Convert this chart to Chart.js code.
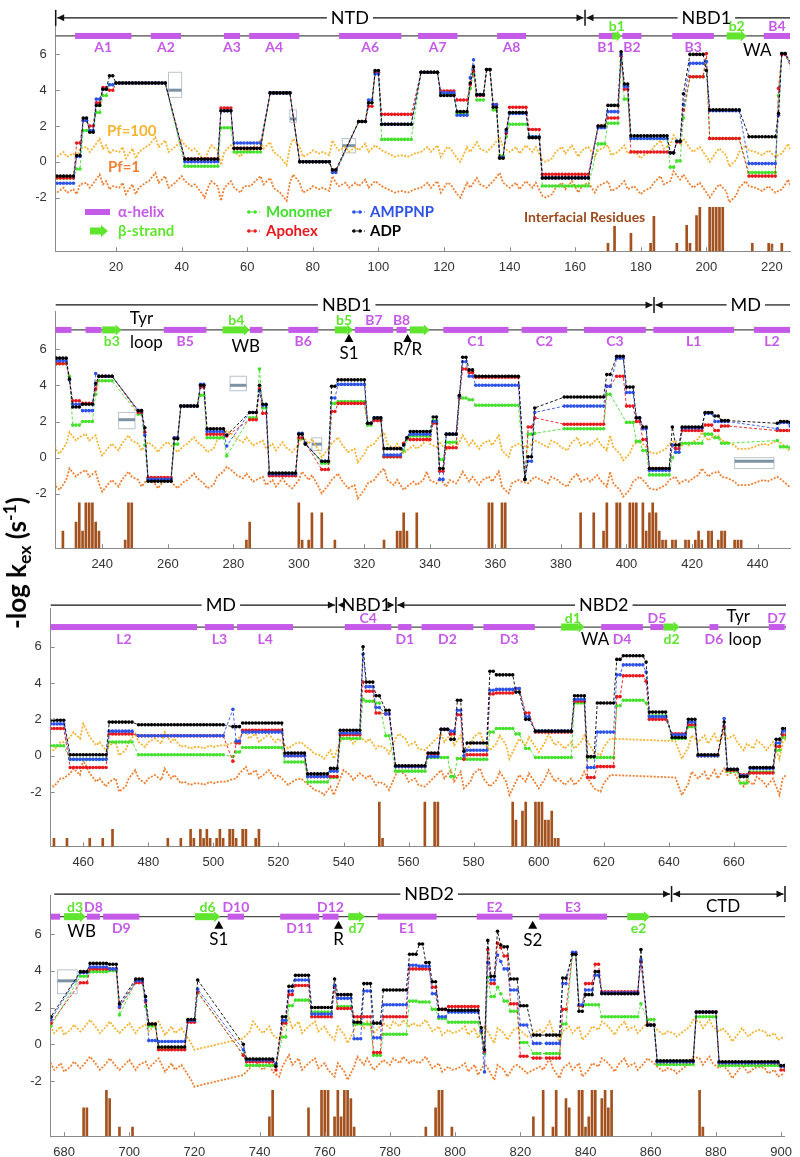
<!DOCTYPE html>
<html>
<head>
<meta charset="utf-8">
<script src="https://cdn.jsdelivr.net/npm/chart.js@4.4.0/dist/chart.umd.min.js"></script>
<style>
  html, body { margin: 0; padding: 0; background: #fff; }
  #page { position: relative; width: 800px; height: 1157px; overflow: hidden; background: #fff; }
  #page canvas { position: absolute; left: 0; }
  #ylabel {
    position: absolute; left: 17px; top: 563px;
    transform: translate(-50%, -50%) rotate(-90deg);
    font: bold 26px Lato, sans-serif; white-space: nowrap; color: #000;
  }
  #ylabel .sub { font-size: 0.68em; vertical-align: -0.3em; }
  #ylabel .sup { font-size: 0.68em; vertical-align: 0.55em; }
</style>
</head>
<body>
<div id="page">
  <canvas id="panel0"></canvas>
  <canvas id="panel1"></canvas>
  <canvas id="panel2"></canvas>
  <canvas id="panel3"></canvas>
  <div id="ylabel">-log k<span class="sub">ex</span> (s<span class="sup">-1</span>)</div>
</div>
<script>
// ---- data ----
const yTicks = [-2, 0, 2, 4, 6];
const xTicks = [
  [20, 40, 60, 80, 100, 120, 140, 160, 180, 200, 220],
  [240, 260, 280, 300, 320, 340, 360, 380, 400, 420, 440],
  [460, 480, 500, 520, 540, 560, 580, 600, 620, 640, 660],
  [680, 700, 720, 740, 760, 780, 800, 820, 840, 860, 880, 900]
];

// peptides [first residue, last residue]; state arrays hold -log kex per peptide
const peptides = [
  [2,7],[8,9],[10,11],[12,13],[14,15],[16,17],[18,19],[20,35],[41,51],[52,55],
  [56,64],[67,73],[76,85],[86,87],[94,96],[97,98],[99,100],[101,110],[113,118],[119,123],
  [124,127],[128,128],[129,129],[130,132],[133,134],[135,136],[137,138],[139,139],[140,145],[146,149],
  [150,164],[167,169],[170,173],[174,174],[175,176],[177,188],[189,190],[191,192],[193,193],[195,199],
  [200,200],[201,210],[213,221],[222,222],[223,224],
  [226,229],[230,230],[231,233],[234,237],[238,238],[239,243],[251,252],[253,253],[254,261],[262,263],
  [264,269],[270,271],[272,277],[278,278],[285,287],[288,288],[289,290],[291,299],[300,301],[302,302],
  [307,309],[310,311],[312,320],[321,322],[323,325],[326,331],[332,332],[333,333],[334,340],[341,342],
  [343,344],[345,348],[349,349],[350,351],[352,353],[354,367],[369,369],[370,371],[372,372],[381,393],
  [394,395],[397,399],[400,402],[403,404],[405,406],[407,413],[414,414],[415,416],[417,423],[424,426],
  [427,428],[429,431],[446,446],[447,449],
  [450,454],[456,467],[468,475],[477,503],[506,506],[507,508],[509,521],[522,528],[529,535],[536,538],
  [539,545],[546,546],[547,549],[550,551],[553,554],[556,565],[566,569],[570,572],[573,574],[575,576],
  [577,577],[578,584],[585,586],[587,592],[593,594],[596,597],[599,610],[611,614],[615,617],[618,623],
  [624,625],[626,632],[633,633],[634,639],[641,645],[646,648],[649,655],[657,657],[658,661],[662,664],
  [665,672],[673,674],[675,676],
  [685,687],[688,693],[694,696],[697,697],[702,704],[705,705],[706,708],[709,717],[718,720],[721,721],
  [735,735],[736,744],[745,745],[747,748],[749,750],[751,755],[756,762],[763,763],[764,768],[769,771],
  [772,774],[775,777],[778,785],[786,788],[789,790],[791,792],[793,794],[795,797],[798,807],[808,808],
  [809,809],[810,810],[811,812],[813,813],[814,814],[815,816],[817,819],[820,822],[824,826],[828,832],
  [833,834],[836,837],[838,839],[840,842],[843,844],[845,856],[857,857],[859,861],[862,873],[874,880],
  [881,899],[900,901]
];

const monomer = [
  -0.9,-0.4,1.75,1.75,2.75,3.7,4.3,4.4,-0.25,1.9,
  0.55,3.85,0,-0.5,2.25,3.3,5.0,1.25,5.0,3.8,
  2.7,4.1,4.9,3.45,5.15,2.9,0.35,1.4,2.1,1.4,
  -1.35,1.0,2.15,5.6,3.5,1.3,-0.3,0.05,2.45,4.75,
  5.6,1.3,-0.6,3.7,6.05,
  5.2,4.5,1.8,2.0,3.5,4.25,2.4,0.7,-1.2,0.75,
  2.85,3.45,1.1,0.1,2.2,4.9,2.75,-0.9,1.05,0.8,
  -0.3,3.0,3.1,1.8,2.1,0.05,0.4,1.0,1.2,2.05,
  -0.1,0.85,3.3,3.3,3.2,2.9,-1.2,1.3,1.35,1.6,
  3.5,null,1.95,0.9,0.4,-0.95,0.0,0.3,0.8,1.3,
  1.1,0.8,0.95,0.6,
  0.55,-0.2,0.75,0.05,-0.05,0.2,0.45,-0.35,-1.45,-1.2,
  0.95,3.1,3.0,2.9,1.1,-0.85,-0.1,-0.1,-1.15,-0.15,
  -0.15,-0.2,1.3,1.5,1.2,0.4,-0.1,2.9,-0.1,-0.1,
  2.75,3.05,2.9,2.2,0.95,1.6,0.0,1.5,-0.85,-1.5,
  -0.9,0.3,1.0,
  3.7,3.95,4.0,1.6,3.4,2.05,1.0,-0.25,1.25,2.8,
  -0.55,-1.15,-1.1,0.4,2.1,2.4,1.75,3.2,2.05,1.1,
  1.1,-0.6,0.55,2.35,2.3,2.3,1.9,1.4,1.2,0.6,
  -0.5,3.65,2.6,3.1,2.75,2.35,1.8,0.1,-0.5,-0.5,
  1.1,4.9,2.1,2.15,2.15,1.5,2.2,1.35,-1.1,1.5,
  -1.15,-1.2
];

const apohex = [
  -0.9,1.05,2.3,2.0,3.3,4.15,4.0,4.4,0.15,3.0,
  0.75,3.85,0,-0.5,2.25,3.1,5.0,2.65,5.0,3.95,
  3.45,4.3,5.05,3.7,5.15,3.2,0.25,1.6,3.05,1.8,
  -0.7,2.0,2.45,5.9,4.05,0.55,0.5,1.1,2.9,4.75,
  6.05,1.3,-0.8,4.1,6.0,
  5.2,4.3,3.15,3.0,3.8,4.5,2.5,1.4,-1.1,1.1,
  2.85,3.9,1.3,1.2,2.1,3.8,2.45,-1.0,1.1,0.8,
  -0.65,2.55,3.0,1.9,2.05,0.05,0.8,1.1,1.0,1.9,
  -0.75,0.55,3.3,4.9,4.7,4.45,-1.2,1.7,2.2,1.85,
  3.95,4.5,2.85,2.0,1.0,-0.6,0.7,0.5,1.5,1.8,
  1.5,1.75,1.5,1.5,
  1.5,-0.65,1.2,1.1,-0.3,0.7,1.4,0.0,-1.15,-1.15,
  1.15,4.05,3.55,2.35,2.3,-0.6,0.1,1.45,1.2,2.25,
  -0.2,0.05,3.4,3.45,3.7,2.35,1.3,3.0,-1.2,-0.6,
  3.25,4.4,4.1,2.0,1.2,1.7,0.0,1.6,-0.8,-1.05,
  -0.95,0.5,1.15,
  3.35,4.1,4.1,2.0,3.35,2.3,1.1,-0.3,1.2,2.85,
  -0.6,-0.95,-1.4,1.15,2.7,3.2,1.5,3.1,1.95,1.5,
  1.5,-0.45,1.5,4.1,4.1,4.1,3.1,1.9,2.05,0.7,
  -0.4,5.15,3.3,5.5,5.25,4.8,2.2,-0.65,-0.75,-0.75,
  1.9,4.9,2.1,3.3,4.35,2.85,4.5,1.05,-0.95,1.75,
  -1.0,-1.4
];

const amppnp = [
  -1.2,0.3,2.3,1.75,3.5,4.05,4.3,4.4,0.0,2.85,
  1.05,3.85,0,-0.6,2.25,3.45,4.9,2.1,5.0,3.85,
  2.6,4.7,5.7,3.75,5.15,3.2,0.25,1.7,2.7,1.4,
  -0.9,1.9,2.8,6.0,4.2,1.3,0.5,1.15,3.2,5.5,
  5.6,2.85,-0.1,2.6,6.05,
  5.35,4.3,2.95,2.6,4.65,4.5,2.6,1.25,-1.2,1.1,
  2.85,4.05,1.45,0.65,2.5,3.7,2.9,-0.9,1.35,0.8,
  -0.2,3.3,4.05,1.9,2.2,0.15,0.7,1.1,1.3,2.0,
  -1.2,1.3,3.4,5.3,4.5,4.0,-1.2,-0.2,2.5,2.85,
  3.95,5.5,3.6,2.2,1.6,-0.7,0.7,0.3,1.65,2.45,
  2.0,2.0,1.6,1.95,
  1.75,-0.2,1.35,1.1,2.55,0.8,1.3,0.0,-1.15,-0.85,
  1.25,5.6,3.8,2.65,2.3,-0.6,-0.05,1.45,1.35,2.5,
  0.0,0.3,3.6,3.65,3.7,2.15,1.35,3.1,-0.65,1.3,
  4.45,5.0,4.6,2.15,1.15,1.85,0.0,2.05,-0.75,-1.1,
  -0.7,0.7,1.35,
  3.9,4.2,4.1,2.05,3.45,2.4,0.2,0.15,1.3,3.0,
  -0.3,-0.85,-1.05,1.3,2.9,3.5,1.65,3.2,2.5,0.3,
  2.9,0.35,2.15,4.3,4.25,4.25,2.75,1.5,1.75,0.75,
  -1.5,4.45,3.5,4.85,4.5,4.1,2.95,1.05,0.05,0.05,
  3.3,5.0,2.15,2.95,3.75,2.8,4.6,1.05,-0.95,1.75,
  -1.0,-1.2
];

const adp = [
  -0.8,0.35,2.45,1.65,3.15,4.05,4.8,4.4,0.15,2.85,
  0.75,3.85,0,-0.45,2.25,3.3,5.1,2.1,5.0,3.7,
  2.8,4.4,5.3,3.75,5.15,3.05,0.2,1.8,2.75,1.35,
  -0.9,2.0,3.15,6.15,4.35,1.45,0.5,1.15,3.8,6.0,
  5.1,2.9,1.4,2.7,6.05,
  5.5,4.35,2.8,2.95,4.1,4.5,2.6,1.65,-1.3,1.05,
  2.85,4.0,1.6,1.25,2.5,4.0,2.95,-0.85,1.3,0.75,
  -0.2,3.95,4.3,1.9,2.2,0.5,0.7,1.1,1.45,2.25,
  -0.6,1.3,3.45,5.55,4.85,4.5,-1.2,0.05,2.75,3.35,
  4.6,5.6,3.9,2.2,1.7,-0.6,1.7,0.7,1.7,2.5,
  2.3,2.05,1.9,2.0,
  1.95,0.05,1.85,1.7,1.6,1.6,1.8,0.15,-1.0,-0.7,
  1.4,6.0,4.05,3.3,2.5,-0.55,0.15,1.45,0.9,3.05,
  0.25,0.7,4.65,4.45,3.5,2.0,1.35,3.3,-0.05,2.9,
  5.3,5.5,5.15,2.4,1.0,2.0,0.05,1.85,-0.75,-1.15,
  -0.65,0.9,1.5,
  3.95,4.4,4.35,2.2,3.55,2.6,1.1,-0.15,1.35,3.5,
  0.0,-0.8,-1.2,1.5,3.15,3.75,2.0,3.55,2.7,1.2,
  3.3,1.15,2.95,4.9,5.45,4.45,3.4,1.9,1.85,0.9,
  -0.3,5.65,3.7,6.15,5.4,5.3,3.55,2.1,0.5,0.5,
  3.6,4.9,1.8,2.7,3.95,2.75,5.15,1.05,-0.9,1.75,
  -0.95,-1.15
];

// overlapping peptides without a single value: [first, last, mid, low, high]
const unresolved = [
  [36,40,4.0,3.6,5.0],[73,75,2.4,2.2,2.9],[89,93,0.9,0.5,1.3],
  [245,250,2.1,1.6,2.5],[279,284,4.0,3.7,4.5],[304,307,0.75,0.4,1.1],[433,445,-0.2,-0.6,0.0],
  [678,684,3.45,2.75,4.05]
];

// -log kex for Pf = 1 (i.e. -log kint)
const pf1Curve = [
  [2,-1.72],[4,-1.45],[5,-1.72],[7,-1.54],[8,-1.81],[9,-1.26],[11,-1.17],[12,-1.45],[13,-1.23],[15,-0.71],
  [16,-1.26],[17,-1.08],[18,-1.54],[19,-1.36],[21,-1.45],[22,-1.17],[23,-1.81],[25,-1.26],[26,-1.81],[27,-1.45],
  [29,-1.17],[30,-1.08],[32,-0.62],[33,-1.17],[35,-0.8],[36,-1.45],[38,-1.17],[40,-0.8],[41,-1.08],[43,-1.36],
  [44,-1.26],[46,-1.72],[47,-2.0],[48,-1.45],[49,-1.08],[51,-1.36],[52,-2.18],[53,-1.45],[55,-1.08],[56,-1.45],
  [58,-1.72],[59,-1.36],[61,-1.36],[62,-1.17],[64,-0.8],[65,-1.26],[67,-0.9],[68,-1.45],[70,-1.72],[72,-2.18],
  [73,-1.17],[74,-0.71],[76,-1.17],[77,-1.72],[79,-1.54],[80,-1.36],[82,-1.54],[83,-1.45],[85,-1.63],[86,-0.8],
  [87,-1.17],[88,-1.36],[90,-1.17],[91,-1.45],[93,-1.17],[94,-1.36],[96,-0.99],[97,-1.45],[99,-1.08],[101,-1.36],
  [103,-1.54],[105,-1.72],[107,-1.63],[109,-1.72],[111,-1.54],[113,-1.45],[115,-1.17],[116,-1.45],[118,-1.08],[119,-1.72],
  [121,-1.17],[122,-1.26],[124,-1.81],[125,-2.0],[127,-1.17],[128,-1.45],[130,-0.9],[131,-1.26],[133,-1.45],[135,-1.08],
  [137,-0.62],[138,-1.17],[140,-1.45],[142,-1.17],[143,-1.54],[145,-1.08],[147,-1.45],[148,-1.17],[150,-1.9],[151,-2.0],
  [153,-1.81],[154,-1.45],[156,-1.17],[157,-1.54],[159,-1.08],[161,-1.72],[162,-1.36],[164,-1.17],[166,-1.72],[167,-1.36],
  [170,-1.08],[171,-1.63],[173,-1.45],[175,-1.08],[176,-1.54],[178,-1.36],[180,-1.81],[181,-1.63],[183,-1.45],[184,-1.17],
  [186,-0.8],[187,-1.26],[189,-1.08],[190,-0.53],[192,-0.99],[193,-0.71],[195,-1.26],[196,-1.45],[198,-1.17],[200,-1.72],
  [201,-2.0],[203,-1.45],[204,-1.26],[206,-1.63],[207,-2.27],[209,-1.9],[210,-1.45],[212,-1.08],[213,-1.36],[215,-1.45],
  [217,-1.63],[219,-1.36],[221,-1.72],[223,-1.54],[225,-0.99],
  [226,-1.6],[227,-1.78],[229,-1.23],[230,-0.59],[232,-1.05],[233,-0.87],[235,-0.68],[236,-1.05],[238,-0.77],[239,-1.42],
  [240,-1.88],[242,-1.42],[243,-1.23],[245,-1.6],[246,-1.23],[248,-0.77],[249,-1.05],[251,-1.23],[252,-1.6],[254,-1.14],
  [256,-1.42],[257,-1.69],[259,-1.23],[260,-1.14],[262,-1.51],[263,-1.69],[265,-1.32],[266,-1.23],[268,-0.87],[269,-1.14],
  [271,-1.42],[272,-1.69],[274,-1.51],[275,-1.05],[277,-0.77],[278,-0.5],[280,-0.77],[281,-0.96],[283,-1.14],[284,-0.87],
  [286,-1.32],[287,-1.23],[289,-1.05],[290,-1.51],[292,-1.23],[293,-1.6],[295,-1.14],[296,-1.42],[298,-1.69],[300,-1.23],
  [301,-0.77],[303,-1.23],[304,-0.96],[306,-1.6],[307,-1.97],[309,-1.51],[310,-1.23],[312,-0.87],[313,-1.23],[315,-1.69],
  [317,-1.51],[318,-2.25],[320,-1.78],[321,-1.42],[323,-1.23],[324,-0.96],[326,-0.59],[327,-1.23],[329,-1.51],[330,-1.23],
  [332,-1.78],[333,-1.6],[335,-1.32],[336,-1.51],[338,-1.23],[339,-0.77],[340,-1.23],[342,-1.42],[343,-1.14],[345,-1.6],
  [346,-1.23],[348,-1.42],[349,-1.14],[350,-0.77],[352,-1.32],[353,-1.05],[355,-1.51],[356,-1.23],[358,-1.05],[359,-1.32],
  [361,-0.77],[362,-1.6],[364,-1.97],[365,-1.42],[367,-1.23],[368,-1.32],[370,-1.42],[371,-1.23],[372,-1.05],[374,-1.23],
  [376,-1.42],[377,-1.05],[379,-1.23],[380,-1.42],[382,-1.6],[383,-1.23],[385,-0.87],[386,-1.32],[388,-1.14],[389,-1.32],
  [391,-0.96],[392,-1.23],[394,-1.6],[395,-0.77],[396,-1.42],[398,-1.78],[399,-2.15],[401,-1.78],[402,-1.32],[404,-1.05],
  [406,-1.42],[407,-1.69],[409,-1.78],[410,-1.69],[412,-1.51],[413,-1.23],[415,-1.05],[416,-1.42],[418,-1.23],[419,-1.32],
  [421,-1.05],[422,-0.96],[423,-0.59],[425,-1.05],[426,-0.87],[428,-0.77],[429,-1.05],[431,-1.14],[433,-1.32],[434,-1.51],
  [436,-1.51],[437,-1.51],[439,-1.42],[440,-1.32],[442,-1.23],[443,-1.32],[445,-1.14],[446,-1.05],[448,-1.32],[450,-1.65],
  [451,-1.7],[453,-1.25],[454,-1.25],[456,-0.97],[457,-0.7],[459,-1.06],[460,-0.24],[462,-0.97],[464,-1.43],[465,-1.25],
  [467,-1.7],[468,-1.43],[470,-1.25],[471,-1.98],[473,-1.7],[474,-1.25],[476,-0.79],[477,-1.25],[479,-1.52],[480,-1.25],
  [482,-1.06],[484,-1.34],[485,-0.7],[487,-1.25],[488,-1.06],[490,-1.52],[491,-1.43],[493,-1.61],[494,-1.52],[496,-1.52],
  [497,-1.61],[499,-1.43],[500,-1.52],[502,-1.43],[504,-1.43],[505,-1.34],[507,-1.25],[508,-0.97],[510,-0.61],[511,-1.06],
  [513,-0.79],[514,-1.25],[516,-0.97],[517,-0.79],[519,-1.25],[520,-1.06],[522,-1.43],[523,-1.61],[525,-1.34],[527,-1.25],
  [528,-1.43],[530,-1.7],[531,-1.89],[533,-1.98],[534,-2.17],[536,-1.7],[537,-2.17],[539,-1.25],[540,-0.79],[542,-1.06],
  [543,-1.34],[545,-0.97],[547,-1.25],[548,-1.06],[550,-1.61],[551,-1.43],[553,-1.61],[554,-1.89],[556,-1.06],[557,-0.79],
  [559,-1.06],[560,-1.43],[562,-1.25],[563,-1.61],[565,-1.7],[567,-1.34],[568,-1.16],[570,-0.79],[571,-1.25],[573,-0.79],
  [574,-1.43],[576,-0.88],[577,-1.8],[579,-1.43],[580,-0.97],[582,-0.7],[583,-1.25],[585,-1.7],[587,-1.34],[588,-0.88],
  [590,-1.43],[591,-2.17],[593,-1.43],[594,-1.06],[596,-1.43],[597,-0.97],[599,-1.52],[600,-1.8],[602,-1.25],[603,-0.79],
  [605,-1.43],[606,-1.25],[608,-1.61],[610,-1.25],[611,-1.61],[613,-1.25],[614,-0.88],[616,-1.52],[617,-1.8],[619,-1.98],
  [620,-1.52],[622,-1.06],[642,-1.2],[644,-2.17],[646,-1.52],[647,-0.88],[649,-1.25],[651,-0.88],[652,-1.34],[654,-0.79],
  [655,-1.25],[657,-0.7],[658,-1.06],[660,-0.88],[661,-1.25],[663,-1.7],[664,-1.34],[666,-1.61],[667,-1.16],[669,-1.43],
  [670,-1.7],[672,-1.25],[674,-2.17],[675,-1.25],[676,-1.06],
  [677,-1.39],[679,-1.03],[680,-1.49],[682,-1.21],[683,-0.94],[685,-1.3],[686,-1.12],[688,-0.67],[690,-1.12],[691,-1.39],
  [693,-1.03],[694,-0.76],[696,-1.21],[697,-1.39],[699,-1.03],[700,-0.85],[702,-1.39],[703,-1.12],[705,-0.94],[706,-1.3],
  [708,-0.94],[709,-0.76],[711,-1.49],[713,-1.03],[714,-1.39],[716,-1.12],[717,-1.39],[719,-1.94],[720,-2.3],[735,-1.67],
  [737,-1.3],[738,-0.76],[740,-1.21],[741,-1.39],[743,-1.03],[744,-1.49],[746,-1.76],[747,-1.21],[749,-0.58],[750,-1.12],
  [752,-0.76],[753,-1.39],[755,-1.03],[757,-0.76],[758,-1.3],[760,-1.03],[761,-1.39],[763,-1.76],[764,-1.03],[766,-1.49],
  [767,-1.94],[769,-1.21],[770,-0.67],[772,-1.12],[773,-0.76],[775,-1.39],[776,-1.21],[778,-0.85],[780,-1.12],[781,-0.76],
  [783,-1.03],[784,-0.67],[786,-1.03],[787,-0.85],[789,-1.03],[791,-0.67],[793,-1.3],[795,-1.03],[796,-1.49],[798,-1.21],
  [799,-1.39],[801,-1.3],[803,-1.03],[804,-1.49],[806,-1.12],[807,-1.67],[809,-1.03],[810,-1.3],[812,-1.94],[813,-1.12],
  [815,-1.39],[816,-1.76],[818,-1.21],[819,-1.12],[821,-1.39],[822,-1.58],[824,-1.39],[826,-1.21],[827,-1.39],[829,-0.76],
  [830,-1.3],[832,-1.85],[833,-1.3],[835,-1.03],[836,-1.39],[838,-1.03],[839,-1.76],[841,-1.39],[842,-1.03],[844,-1.21],
  [845,-0.76],[847,-1.03],[849,-1.49],[850,-1.12],[852,-0.76],[853,-1.21],[855,-1.03],[856,-1.39],[858,-1.03],[859,-0.76],
  [861,-1.03],[862,-1.21],[864,-1.49],[865,-1.3],[867,-1.39],[868,-1.58],[870,-1.3],[872,-1.03],[873,-0.67],[875,-0.76],
  [876,-1.12],[878,-0.67],[879,-1.03],[881,-1.3],[882,-1.12],[884,-1.49],[885,-1.85],[887,-1.39],[888,-1.12],[890,-1.58],
  [891,-1.39],[893,-1.21],[895,-1.3],[896,-1.58],[898,-1.39],[899,-1.76],[901,-1.58]
];
const LOG_PF100 = 2; // log10(100): the Pf=100 curve sits 2 units above Pf=1

// interfacial residues and the top of each bar (bars rise from the axis)
const interfaceRes = [
  170,172,177,183,184,191,194,195,197,198,201,202,203,204,205,214,219,220,223,
  228,232,233,234,235,236,237,238,239,247,248,249,284,285,300,301,303,304,307,311,
  326,330,331,332,333,336,358,359,362,363,386,390,393,394,397,398,401,402,403,405,
  406,407,408,409,410,411,412,414,415,418,419,421,422,423,425,426,428,429,430,433,434,435,
  451,455,462,466,469,486,490,493,494,496,497,498,499,501,502,503,505,506,507,509,510,513,514,
  551,552,565,568,569,592,593,595,596,599,600,601,602,603,604,605,606,
  686,687,693,694,697,701,743,744,755,759,760,761,763,764,765,766,767,768,769,
  791,794,795,796,799,824,827,830,831,834,835,838,839,840,841,842,843,845,846,847,848,875,876
];
const interfaceTop = [
  -4.55,-3.6,-4.0,-4.55,-3.05,-4.55,-3.55,-4.55,-3.0,-2.55,-2.55,-2.55,-2.55,-2.55,-2.55,-4.55,-4.55,-4.6,-4.55,
  -4.05,-3.55,-2.5,-4.05,-2.5,-2.5,-2.5,-3.55,-4.05,-4.55,-2.5,-2.5,-4.55,-3.55,-2.5,-4.55,-4.55,-3.05,-3.05,-4.55,
  -4.55,-4.05,-4.05,-3.05,-4.05,-3.05,-2.5,-2.5,-2.5,-2.5,-3.05,-3.05,-4.05,-2.5,-2.5,-2.5,-2.5,-2.5,-2.5,-2.5,
  -4.05,-3.05,-2.5,-3.05,-4.05,-4.55,-4.55,-4.55,-4.55,-4.55,-4.55,-4.55,-4.05,-4.55,-4.05,-4.05,-4.55,-4.05,-4.05,-4.55,-4.55,-4.55,
  -4.55,-4.55,-4.55,-4.55,-4.05,-4.55,-4.55,-4.05,-4.55,-4.05,-4.55,-4.05,-4.55,-4.55,-4.05,-4.55,-4.05,-4.05,-4.55,-4.05,-4.05,-4.55,-4.05,
  -2.55,-4.55,-2.55,-2.55,-2.55,-2.55,-3.55,-3.05,-2.55,-2.55,-2.55,-2.55,-3.55,-3.55,-3.05,-4.55,-4.55,
  -3.45,-3.45,-2.5,-2.95,-4.5,-4.5,-3.95,-2.5,-3.45,-2.5,-2.5,-2.5,-3.95,-2.5,-3.95,-2.5,-2.5,-2.95,-4.5,
  -4.5,-3.45,-2.5,-2.5,-4.5,-3.95,-2.5,-4.5,-2.5,-2.95,-3.45,-2.5,-2.5,-4.5,-3.95,-2.5,-2.5,-2.95,-2.5,-3.45,-2.5,-2.5,-4.5
];

// secondary structure: [first, last, label, label side]
const helices = [
  [7.5,24.7,'A1','b'],[30.6,39.8,'A2','b'],[52.9,57.8,'A3','b'],[60.6,75.9,'A4','b'],[88,107,'A6','b'],
  [112.1,124.1,'A7','b'],[136.2,145,'A8','b'],[167.2,171.6,'B1','b'],[174.4,180.2,'B2','b'],[189.6,202.3,'B3','b'],
  [217.5,225.5,'B4','a'],
  [225.8,230.6,'',''],[234.9,239.8,'',''],[258.8,271.8,'B5','b'],[285.1,288.9,'',''],[296.8,305.9,'B6','b'],
  [317.1,328.8,'B7','a'],[329.8,332.9,'B8','a'],[344.1,364,'C1','b'],[368,381.9,'C2','b'],[387,405.9,'C3','b'],
  [408.2,432.8,'L1','b'],[438.9,449.9,'L2','b'],
  [450,495,'L2','b'],[497.4,506.3,'L3','b'],[507.3,524.5,'L4','b'],[540.4,554.7,'C4','a'],[556.8,560.9,'D1','b'],
  [564,579.9,'D2','b'],[583,598.8,'D3','b'],[619.2,632,'D4','b'],[634.3,638.4,'D5','a'],[652.5,655.2,'D6','b'],
  [670.7,675.6,'D7','a'],
  [675.9,678.8,'',''],[687,691,'D8','a'],[692,703.1,'D9','b'],[730.2,735.2,'D10','a'],[746.3,758.3,'D11','b'],
  [759.3,764.2,'D12','a'],[776.2,794.3,'E1','b'],[806.6,817.6,'E2','a'],[825.8,846.6,'E3','a']
];
const strands = [
  [171.3,174.1,'b1','a'],[206.2,212.3,'b2','a'],
  [240,245.9,'b3','b'],[276.7,285.1,'b4','a'],[311,316.6,'b5','a'],[333.9,340,'',''],
  [606.9,614.1,'d1','a'],[638.4,643.3,'d2','b'],
  [680,686.7,'d3','a'],[720.2,727.9,'d6','a'],[767.2,772.3,'d7','b'],[852.8,859.8,'e2','b']
];
const motifTexts = [
  [215.5,6.24,'WA'],[252,7.7,'Tyr'],[253.5,6.38,'loop'],[283.8,6.13,'WB'],
  [617.3,6.37,'WA'],[661.3,7.65,'Tyr'],[663.4,6.37,'loop'],[685.4,6.12,'WB'],[882.2,7.48,'CTD']
];
const siteMarks = [[315.3,'S1',5.73],[333.2,'R/R',5.95],[727.5,'S1',5.71],[764.2,'R',5.68],[823.8,'S2',5.63]];

// domain bar: one entry per panel
const domains = [
  { segs: [{from:1.6,to:163,text:'NTD',at:91.3,l:true,r:true},{from:163,to:225.5,text:'NBD1',at:200,l:true,r:false}], bars:[1.6,163] },
  { segs: [{from:225.8,to:408.4,text:'NBD1',at:314.6,l:false,r:true},{from:408.4,to:449.9,text:'MD',at:436.4,l:true,r:false}], bars:[408.4] },
  { segs: [{from:450,to:537.8,text:'MD',at:502.3,l:false,r:true},{from:537.8,to:556.1,text:'NBD1',at:547,l:true,r:true},{from:556.1,to:676,text:'NBD2',at:620,l:true,r:false}], bars:[537.8,556.1] },
  { segs: [{from:677,to:866.4,text:'NBD2',at:792,l:false,r:true},{from:866.4,to:901.2,text:'',l:true,r:true}], bars:[866.4,901.2] }
];

// ---- layout ----
const YMIN = -5, YMAX = 8.1;
const panels = [
  { zero: 160.3,  ppu: 18.2,  left: 55.7, right: 790, min: 1.6,   max: 225.5, domainY: 8.04, ssY: 7.03 },
  { zero: 457.7,  ppu: 18.1,  left: 55.7, right: 790, min: 225.8, max: 449.9, domainY: 8.44, ssY: 7.06 },
  { zero: 755.7,  ppu: 18.17, left: 50.7, right: 786, min: 450,   max: 676,   domainY: 8.29, ssY: 7.08 },
  { zero: 1044.3, ppu: 18.39, left: 50.7, right: 785, min: 675.9, max: 901.2, domainY: 8.17, ssY: 6.94 }
];

const COLORS = {
  monomer: '#43e02c', apohex: '#e8181c', amppnp: '#2d52e8', adp: '#000000',
  pf100: '#f5b431', pf1: '#ee8033', bars: '#a3521f',
  helix: '#c55ae9', strand: '#5fe52e', grayLine: '#7d93a4', grayBox: '#b7c4cf'
};
const LABEL_FONT = 'Lato, "Open Sans", sans-serif';

function residuePoints(values) {
  const pts = [];
  peptides.forEach(([s, e], i) => {
    if (values[i] === null) return;
    for (let r = s; r <= e; r++) pts.push({ x: r, y: values[i] });
  });
  return pts;
}

function stateSet(label, values, color, order) {
  return {
    label, data: residuePoints(values), order,
    borderColor: color, backgroundColor: color, pointBackgroundColor: color,
    borderWidth: 0.9, borderDash: [3, 2], pointRadius: 1.8, pointBorderWidth: 0,
    tension: 0, fill: false
  };
}

function drawText(ctx, txt, x, y, font, color, align) {
  ctx.font = font; ctx.fillStyle = color;
  ctx.textAlign = align || 'center'; ctx.textBaseline = 'middle';
  ctx.fillText(txt, x, y);
}

function decorPlugin(idx) {
  const p = panels[idx];
  const inRange = v => v >= p.min - 0.5 && v <= p.max + 0.5;
  return {
    id: 'decor' + idx,
    beforeDatasetsDraw(chart) {
      const ctx = chart.ctx, X = v => chart.scales.x.getPixelForValue(v), Y = v => chart.scales.y.getPixelForValue(v);
      ctx.save();
      unresolved.forEach(([s, e, mid, lo, hi]) => {
        if (!inRange(s) && !inRange(e)) return;
        const x1 = X(s), x2 = X(e);
        ctx.strokeStyle = COLORS.grayBox; ctx.lineWidth = 1;
        ctx.strokeRect(x1, Y(hi), x2 - x1, Y(lo) - Y(hi));
        ctx.strokeStyle = COLORS.grayLine; ctx.lineWidth = 3;
        ctx.beginPath(); ctx.moveTo(x1, Y(mid)); ctx.lineTo(x2, Y(mid)); ctx.stroke();
      });
      ctx.restore();
    },
    afterDraw(chart) {
      const ctx = chart.ctx, area = chart.chartArea;
      const xs = chart.scales.x, ys = chart.scales.y;
      const X = v => xs.getPixelForValue(v), Y = v => ys.getPixelForValue(v);
      ctx.save();
      // inward tick marks
      ctx.strokeStyle = '#8a8a8a'; ctx.lineWidth = 1;
      xTicks[idx].forEach(v => { const x = Math.round(X(v)) + 0.5; ctx.beginPath(); ctx.moveTo(x, area.bottom); ctx.lineTo(x, area.bottom - 4); ctx.stroke(); });
      yTicks.forEach(v => { const y = Math.round(Y(v)) + 0.5; ctx.beginPath(); ctx.moveTo(area.left, y); ctx.lineTo(area.left + 4, y); ctx.stroke(); });

      // secondary structure line
      const sy = Y(p.ssY);
      ctx.strokeStyle = '#4a4a4a'; ctx.lineWidth = 1.2;
      ctx.beginPath(); ctx.moveTo(area.left, sy); ctx.lineTo(area.right, sy); ctx.stroke();
      const ssFont = 'bold 14px ' + LABEL_FONT;
      helices.forEach(([s, e, lab, side]) => {
        if (e < p.min || s > p.max) return;
        const x1 = X(Math.max(s, p.min)), x2 = X(Math.min(e, p.max));
        ctx.fillStyle = COLORS.helix; ctx.fillRect(x1, sy - 3, x2 - x1, 6);
        if (lab) drawText(ctx, lab, (x1 + x2) / 2, side === 'a' ? sy - 9 : sy + 12, ssFont, COLORS.helix);
      });
      strands.forEach(([s, e, lab, side]) => {
        if (e < p.min || s > p.max) return;
        const x1 = X(s), x2 = X(e), head = Math.min(6, (x2 - x1) / 2);
        ctx.fillStyle = COLORS.strand;
        ctx.fillRect(x1, sy - 3.5, x2 - x1 - head, 7);
        ctx.beginPath(); ctx.moveTo(x2 - head, sy - 5.5); ctx.lineTo(x2, sy); ctx.lineTo(x2 - head, sy + 5.5); ctx.closePath(); ctx.fill();
        if (lab) drawText(ctx, lab, (x1 + x2) / 2, side === 'a' ? sy - 9 : sy + 12, ssFont, COLORS.strand);
      });
      const blackFont = '17px ' + LABEL_FONT;
      motifTexts.forEach(([r, v, t]) => { if (inRange(r)) drawText(ctx, t, X(r), Y(v), blackFont, '#000'); });
      siteMarks.forEach(([r, t, v]) => {
        if (!inRange(r)) return;
        const x = X(r);
        ctx.fillStyle = '#000';
        ctx.beginPath(); ctx.moveTo(x, sy + 4); ctx.lineTo(x + 4.5, sy + 12); ctx.lineTo(x - 4.5, sy + 12); ctx.closePath(); ctx.fill();
        drawText(ctx, t, x, Y(v), blackFont, '#000');
      });

      // domain bar
      const dy = Y(p.domainY);
      const dom = domains[idx];
      ctx.strokeStyle = '#111'; ctx.fillStyle = '#111'; ctx.lineWidth = 1.2;
      const hline = (a, b) => { if (b > a) { ctx.beginPath(); ctx.moveTo(a, dy); ctx.lineTo(b, dy); ctx.stroke(); } };
      const arrow = (x, dir) => { ctx.fillStyle = '#111'; ctx.beginPath(); ctx.moveTo(x, dy); ctx.lineTo(x - dir * 7, dy - 3.5); ctx.lineTo(x - dir * 7, dy + 3.5); ctx.closePath(); ctx.fill(); };
      dom.segs.forEach(sg => {
        const x1 = X(sg.from) + (sg.l ? 1.5 : 0), x2 = X(sg.to) - (sg.r ? 1.5 : 0);
        if (sg.text) {
          ctx.font = '18px ' + LABEL_FONT;
          const w = ctx.measureText(sg.text).width, cx = X(sg.at);
          hline(x1, cx - w / 2 - 4); hline(cx + w / 2 + 4, x2);
          drawText(ctx, sg.text, cx, dy, '18px ' + LABEL_FONT, '#000');
        } else hline(x1, x2);
        if (sg.l) arrow(x1, -1);
        if (sg.r) arrow(x2, 1);
      });
      ctx.lineWidth = 1.5; ctx.strokeStyle = '#111';
      dom.bars.forEach(b => { const x = X(b); ctx.beginPath(); ctx.moveTo(x, dy - 8); ctx.lineTo(x, dy + 8); ctx.stroke(); });

      if (idx === 0) drawLegend(ctx);
      ctx.restore();
    }
  };
}

function drawLegend(ctx) {
  const f = 'bold 15px ' + LABEL_FONT;
  ctx.fillStyle = COLORS.helix; ctx.fillRect(85, 209, 25, 6);
  drawText(ctx, 'α-helix', 118, 212, f, COLORS.helix, 'left');
  ctx.fillStyle = COLORS.strand; ctx.fillRect(90, 227.5, 11, 7);
  ctx.beginPath(); ctx.moveTo(101, 225); ctx.lineTo(108, 231); ctx.lineTo(101, 237); ctx.closePath(); ctx.fill();
  drawText(ctx, 'β-strand', 118, 231, f, COLORS.strand, 'left');
  const sample = (x, y, c) => {
    ctx.strokeStyle = c; ctx.lineWidth = 1; ctx.setLineDash([2, 2]);
    ctx.beginPath(); ctx.moveTo(x, y); ctx.lineTo(x + 13, y); ctx.stroke(); ctx.setLineDash([]);
    ctx.fillStyle = c;
    [x + 2, x + 8].forEach(px => { ctx.beginPath(); ctx.arc(px, y, 1.8, 0, Math.PI * 2); ctx.fill(); });
  };
  sample(247, 212, COLORS.monomer); drawText(ctx, 'Monomer', 266, 212, f, COLORS.monomer, 'left');
  sample(247, 231, COLORS.apohex); drawText(ctx, 'Apohex', 266, 231, f, COLORS.apohex, 'left');
  sample(352, 212, COLORS.amppnp); drawText(ctx, 'AMPPNP', 370, 212, f, COLORS.amppnp, 'left');
  sample(352, 231, COLORS.adp); drawText(ctx, 'ADP', 370, 231, f, COLORS.adp, 'left');
  drawText(ctx, 'Pf=100', 107, 131, f, COLORS.pf100, 'left');
  drawText(ctx, 'Pf=1', 108, 167, f, COLORS.pf1, 'left');
  drawText(ctx, 'Interfacial Residues', 524, 217, 'bold 14px ' + LABEL_FONT, '#9c4a1b', 'left');
}

panels.forEach((p, idx) => {
  const canvasTop = idx === 0 ? 0 : Math.round(p.zero - 9.3 * p.ppu);
  const canvasBottom = Math.min(1157, Math.round(p.zero + YMIN * -p.ppu + 24));
  const h = canvasBottom - canvasTop;
  const axisBottom = p.zero - YMIN * p.ppu - canvasTop;
  const padTop = p.zero - YMAX * p.ppu - canvasTop;
  const cv = document.getElementById('panel' + idx);
  cv.width = 800; cv.height = h;
  cv.style.top = canvasTop + 'px'; cv.style.width = '800px'; cv.style.height = h + 'px';

  const datasets = [
    stateSet('ADP', adp, COLORS.adp, 1),
    stateSet('AMPPNP', amppnp, COLORS.amppnp, 2),
    stateSet('Apohex', apohex, COLORS.apohex, 3),
    stateSet('Monomer', monomer, COLORS.monomer, 4),
    { label: 'Pf=100', data: pf1Curve.map(([r, v]) => ({ x: r, y: v + LOG_PF100 })), order: 5,
      borderColor: COLORS.pf100, borderWidth: 1.8, borderDash: [2, 1.5], pointRadius: 0, tension: 0, fill: false },
    { label: 'Pf=1', data: pf1Curve.map(([r, v]) => ({ x: r, y: v })), order: 6,
      borderColor: COLORS.pf1, borderWidth: 1.8, borderDash: [2, 1.5], pointRadius: 0, tension: 0, fill: false },
    { type: 'bar', label: 'Interfacial Residues', order: 7,
      data: interfaceRes.map((r, i) => ({ x: r, y: [YMIN, interfaceTop[i]] })),
      backgroundColor: COLORS.bars, borderWidth: 0, barThickness: 2, grouped: false }
  ];

  new Chart(cv.getContext('2d'), {
    type: 'line',
    data: { datasets },
    options: {
      responsive: false, animation: false, devicePixelRatio: 1, events: [],
      layout: { padding: { top: padTop, left: 0, right: 800 - p.right, bottom: 0 } },
      plugins: { legend: { display: false }, tooltip: { enabled: false } },
      scales: {
        x: {
          type: 'linear', min: p.min, max: p.max, offset: false,
          afterBuildTicks: s => { s.ticks = xTicks[idx].map(v => ({ value: v })); },
          afterFit: s => { s.height = h - axisBottom; },
          grid: { display: true, drawOnChartArea: false, drawTicks: false },
          border: { display: true, color: '#8a8a8a', width: 1 },
          ticks: { padding: 8, color: '#333', font: { family: '"Liberation Sans", Arial, sans-serif', size: 13 }, maxRotation: 0, autoSkip: false }
        },
        y: {
          type: 'linear', min: YMIN, max: YMAX,
          afterBuildTicks: s => { s.ticks = yTicks.map(v => ({ value: v })); },
          afterFit: s => { s.width = p.left; },
          grid: { display: true, drawOnChartArea: false, drawTicks: false },
          border: { display: true, color: '#8a8a8a', width: 1 },
          ticks: { padding: 9, color: '#333', font: { family: '"Liberation Sans", Arial, sans-serif', size: 13 } }
        }
      }
    },
    plugins: [decorPlugin(idx)]
  });
});
</script>
</body>
</html>
